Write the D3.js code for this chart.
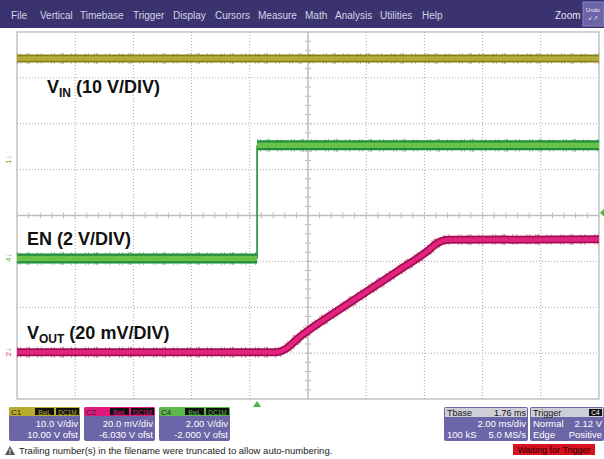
<!DOCTYPE html>
<html>
<head>
<meta charset="utf-8">
<script src="https://cdn.jsdelivr.net/npm/d3@7"></script>
<style>
  body { margin: 0; background: #fff; }
  svg { display: block; font-family: "Liberation Sans", Arial, sans-serif; }
</style>
</head>
<body>
<script>
// scope capture, values (time in ms, level in divisions)

const menuItems = ["File", "Vertical", "Timebase", "Trigger", "Display", "Cursors", "Measure", "Math", "Analysis", "Utilities", "Help"];
const menuX = [11, 40, 80, 133, 173, 215, 258, 305, 335, 380, 422];

const vinTime = [0, 20];
const vinLevel = [3.42, 3.42];

const enTime = [0, 8.25, 8.25, 20];
const enLevel = [-0.94, -0.94, 1.53, 1.53];

const voutTime = [0, 8.9, 9.2, 9.73, 11.44, 13.16, 14.1, 14.45, 14.8, 20];
const voutLevel = [-2.98, -2.98, -2.92, -2.64, -1.90, -1.18, -0.78, -0.6, -0.53, -0.52];

const channelBoxes = [
  {name: "C1", color: "#b9ab2e", lines: ["10.0 V/div", "10.00 V ofst"]},
  {name: "C2", color: "#e0197c", lines: ["20.0 mV/div", "-6.030 V ofst"]},
  {name: "C4", color: "#5fb94a", lines: ["2.00 V/div", "-2.000 V ofst"]}
];

const W = 604, H = 459;
const plot = {left: 17, right: 599, top: 32, bottom: 399};

const svg = d3.select("body").append("svg")
  .attr("width", W)
  .attr("height", H);

const x = d3.scaleLinear().domain([0, 20]).range([plot.left, plot.right]);
const y = d3.scaleLinear().domain([-4, 4]).range([plot.bottom, plot.top]);

drawMenu();
drawGrid();
drawTraces();
drawLabels();
drawStatus();

function drawMenu() {
  svg.append("rect").attr("x", 0).attr("y", 0).attr("width", W).attr("height", 28).attr("fill", "#3b3270");
  svg.selectAll("text.menu").data(menuItems).enter().append("text")
    .attr("class", "menu")
    .attr("x", (d, i) => menuX[i])
    .attr("y", 19)
    .attr("font-size", 10)
    .attr("fill", "#d4d4e4")
    .text(d => d);
  svg.append("text").attr("x", 555).attr("y", 19).attr("font-size", 10).attr("fill", "#e4e4f0").text("Zoom");
  svg.append("rect").attr("x", 583).attr("y", 2).attr("width", 21).attr("height", 24)
    .attr("fill", "#6c64a8").attr("stroke", "#8a84c0");
  svg.append("text").attr("x", 593).attr("y", 12).attr("font-size", 6).attr("fill", "#eee")
    .attr("text-anchor", "middle").text("Undo");
  svg.append("text").attr("x", 593).attr("y", 20).attr("font-size", 6).attr("fill", "#eee")
    .attr("text-anchor", "middle").text("↙↗");
}

function drawGrid() {
  const g = svg.append("g");
  g.append("rect")
    .attr("x", plot.left).attr("y", plot.top)
    .attr("width", plot.right - plot.left).attr("height", plot.bottom - plot.top)
    .attr("fill", "#fff").attr("stroke", "#b4b4b4").attr("stroke-width", 1.2);

  // dotted divisions
  g.selectAll("line.vgrid").data(d3.range(2, 20, 2).filter(d => d !== 10)).enter().append("line")
    .attr("x1", d => x(d)).attr("x2", d => x(d))
    .attr("y1", plot.top).attr("y2", plot.bottom)
    .attr("stroke", "#a8a8a8").attr("stroke-dasharray", "1,2");
  g.selectAll("line.hgrid").data(d3.range(-3, 4, 1).filter(d => d !== 0)).enter().append("line")
    .attr("x1", plot.left).attr("x2", plot.right)
    .attr("y1", d => y(d)).attr("y2", d => y(d))
    .attr("stroke", "#a8a8a8").attr("stroke-dasharray", "1,2");

  // centre crosshair with minor ticks
  g.append("line").attr("x1", x(10)).attr("x2", x(10)).attr("y1", plot.top).attr("y2", plot.bottom)
    .attr("stroke", "#bdbdbd").attr("stroke-width", 1.5);
  g.append("line").attr("x1", plot.left).attr("x2", plot.right).attr("y1", y(0)).attr("y2", y(0))
    .attr("stroke", "#bdbdbd").attr("stroke-width", 1.5);
  g.selectAll("line.xt").data(d3.range(0.4, 20, 0.4)).enter().append("line")
    .attr("x1", d => x(d)).attr("x2", d => x(d))
    .attr("y1", y(0) - 3).attr("y2", y(0) + 3)
    .attr("stroke", "#bdbdbd");
  g.selectAll("line.yt").data(d3.range(-3.8, 4, 0.2)).enter().append("line")
    .attr("x1", x(10) - 3).attr("x2", x(10) + 3)
    .attr("y1", d => y(d)).attr("y2", d => y(d))
    .attr("stroke", "#bdbdbd");
}

function trace(times, levels, dark, light, wide, narrow) {
  const pts = times.map((t, i) => [t, levels[i]]);
  const line = d3.line().x(d => x(d[0])).y(d => y(d[1])).curve(d3.curveMonotoneX);
  // split into flat/ramped runs and vertical jumps
  let run = [pts[0]];
  const runs = [], jumps = [];
  for (let i = 1; i < pts.length; i++) {
    if (pts[i][0] === pts[i - 1][0]) {
      runs.push(run);
      jumps.push([pts[i - 1], pts[i]]);
      run = [pts[i]];
    } else {
      run.push(pts[i]);
    }
  }
  runs.push(run);
  const g = svg.append("g");
  jumps.forEach(j => {
    g.append("line")
      .attr("x1", x(j[0][0])).attr("x2", x(j[1][0]))
      .attr("y1", y(j[0][1])).attr("y2", y(j[1][1]))
      .attr("stroke", dark).attr("stroke-width", 1.6);
  });
  runs.forEach(r => {
    // faint speckle behind, mimicking the sampled noise
    g.append("path").attr("d", line(r)).attr("fill", "none")
      .attr("stroke", dark).attr("stroke-width", wide + 3)
      .attr("stroke-dasharray", "1,2,1,5,1,1,2,7,1,3,1,9")
      .attr("opacity", 0.45);
    g.append("path").attr("d", line(r)).attr("fill", "none")
      .attr("stroke", dark).attr("stroke-width", wide);
    g.append("path").attr("d", line(r)).attr("fill", "none")
      .attr("stroke", light).attr("stroke-width", narrow);
  });
}

function drawTraces() {
  trace(vinTime, vinLevel, "#858019", "#b2ac38", 8, 4.5);
  trace(enTime, enLevel, "#1f8d3b", "#68c24a", 10, 5.5);
  trace(voutTime, voutLevel, "#a10f50", "#e2237f", 8, 4.5);

  // channel ground markers on the left edge
  const markers = [
    {label: "1", lv: 1.22, color: "#a89c2a"},
    {label: "4", lv: -0.92, color: "#5fb94a"},
    {label: "2", lv: -2.98, color: "#e0197c"}
  ];
  svg.selectAll("text.mk").data(markers).enter().append("text")
    .attr("transform", d => `translate(11, ${y(d.lv)}) rotate(-90)`)
    .attr("text-anchor", "middle")
    .attr("font-size", 8)
    .attr("fill", d => d.color)
    .text(d => d.label + "↓");

  // trigger position and level arrows
  const tx = x(8.25);
  svg.append("path").attr("d", `M${tx - 4},${plot.bottom + 8} L${tx + 4},${plot.bottom + 8} L${tx},${plot.bottom + 2} Z`)
    .attr("fill", "#4fb44a");
  const ty = y(0.06);
  svg.append("path").attr("d", `M${W},${ty - 4} L${W},${ty + 4} L${plot.right + 1},${ty} Z`)
    .attr("fill", "#4fb44a");
}

function drawLabels() {
  const lab = svg.append("g").attr("font-weight", "bold").attr("fill", "#111");
  const t1 = lab.append("text").attr("x", 47).attr("y", 93).attr("font-size", 18);
  t1.append("tspan").text("V");
  t1.append("tspan").attr("font-size", 12).attr("dy", 4).text("IN");
  t1.append("tspan").attr("dy", -4).text(" (10 V/DIV)");

  lab.append("text").attr("x", 27).attr("y", 245).attr("font-size", 18).text("EN (2 V/DIV)");

  const t3 = lab.append("text").attr("x", 27).attr("y", 339).attr("font-size", 18);
  t3.append("tspan").text("V");
  t3.append("tspan").attr("font-size", 12).attr("dy", 4).text("OUT");
  t3.append("tspan").attr("dy", -4).text(" (20 mV/DIV)");
}

function drawStatus() {
  const boxW = 71, boxX = [9, 84, 159];
  channelBoxes.forEach((c, i) => {
    const g = svg.append("g").attr("transform", `translate(${boxX[i]}, 407)`);
    g.append("rect").attr("width", boxW).attr("height", 34).attr("rx", 2).attr("fill", "#6c65a8");
    g.append("rect").attr("width", boxW).attr("height", 9).attr("rx", 2).attr("fill", c.color);
    g.append("text").attr("x", 2).attr("y", 8).attr("font-size", 8).attr("fill", "#222").text(c.name);
    g.append("rect").attr("x", 26).attr("y", 1).attr("width", 19).attr("height", 7).attr("fill", "#111");
    g.append("rect").attr("x", 47).attr("y", 1).attr("width", 23).attr("height", 7).attr("fill", "#111");
    g.append("text").attr("x", 35.5).attr("y", 7.5).attr("font-size", 6.5).attr("text-anchor", "middle").attr("fill", c.color).text("BwL");
    g.append("text").attr("x", 58.5).attr("y", 7.5).attr("font-size", 6.5).attr("text-anchor", "middle").attr("fill", c.color).text("DC1M");
    c.lines.forEach((t, k) => {
      g.append("text").attr("x", boxW - 2).attr("y", 20 + k * 11).attr("font-size", 9.5)
        .attr("text-anchor", "end").attr("fill", "#fff").text(t);
    });
  });

  // timebase box
  const tb = svg.append("g").attr("transform", "translate(444, 407)");
  tb.append("rect").attr("width", 84).attr("height", 34).attr("rx", 2).attr("fill", "#6c65a8");
  tb.append("rect").attr("x", 1).attr("y", 1).attr("width", 82).attr("height", 9).attr("fill", "#cfcfd8");
  tb.append("text").attr("x", 3).attr("y", 9).attr("font-size", 9).attr("fill", "#111").text("Tbase");
  tb.append("text").attr("x", 82).attr("y", 9).attr("font-size", 9).attr("text-anchor", "end").attr("fill", "#111").text("1.76 ms");
  tb.append("text").attr("x", 82).attr("y", 20).attr("font-size", 9.5).attr("text-anchor", "end").attr("fill", "#fff").text("2.00 ms/div");
  tb.append("text").attr("x", 3).attr("y", 31).attr("font-size", 9.5).attr("fill", "#fff").text("100 kS");
  tb.append("text").attr("x", 82).attr("y", 31).attr("font-size", 9.5).attr("text-anchor", "end").attr("fill", "#fff").text("5.0 MS/s");

  // trigger box
  const tr = svg.append("g").attr("transform", "translate(530, 407)");
  tr.append("rect").attr("width", 74).attr("height", 34).attr("rx", 2).attr("fill", "#6c65a8");
  tr.append("rect").attr("x", 1).attr("y", 1).attr("width", 72).attr("height", 9).attr("fill", "#cfcfd8");
  tr.append("text").attr("x", 3).attr("y", 9).attr("font-size", 9).attr("fill", "#111").text("Trigger");
  tr.append("rect").attr("x", 59).attr("y", 2).attr("width", 13).attr("height", 7).attr("fill", "#111");
  tr.append("text").attr("x", 65.5).attr("y", 8).attr("font-size", 6.5).attr("text-anchor", "middle").attr("fill", "#fff").text("C4");
  tr.append("text").attr("x", 3).attr("y", 20).attr("font-size", 9.5).attr("fill", "#fff").text("Normal");
  tr.append("text").attr("x", 72).attr("y", 20).attr("font-size", 9.5).attr("text-anchor", "end").attr("fill", "#fff").text("2.12 V");
  tr.append("text").attr("x", 3).attr("y", 31).attr("font-size", 9.5).attr("fill", "#fff").text("Edge");
  tr.append("text").attr("x", 72).attr("y", 31).attr("font-size", 9.5).attr("text-anchor", "end").attr("fill", "#fff").text("Positive");

  // warning line
  svg.append("path").attr("d", "M5,455 L15,455 L10,446 Z").attr("fill", "#555");
  svg.append("text").attr("x", 10).attr("y", 454).attr("font-size", 7).attr("font-weight", "bold")
    .attr("text-anchor", "middle").attr("fill", "#fff").text("!");
  svg.append("text").attr("x", 19).attr("y", 454).attr("font-size", 9.5).attr("fill", "#222")
    .text("Trailing number(s) in the filename were truncated to allow auto-numbering.");

  svg.append("rect").attr("x", 513).attr("y", 444).attr("width", 82).attr("height", 11).attr("fill", "#d8121f");
  svg.append("text").attr("x", 554).attr("y", 453).attr("font-size", 9).attr("text-anchor", "middle")
    .attr("fill", "#2a0000").text("Waiting for Trigger");
}
</script>
</body>
</html>
